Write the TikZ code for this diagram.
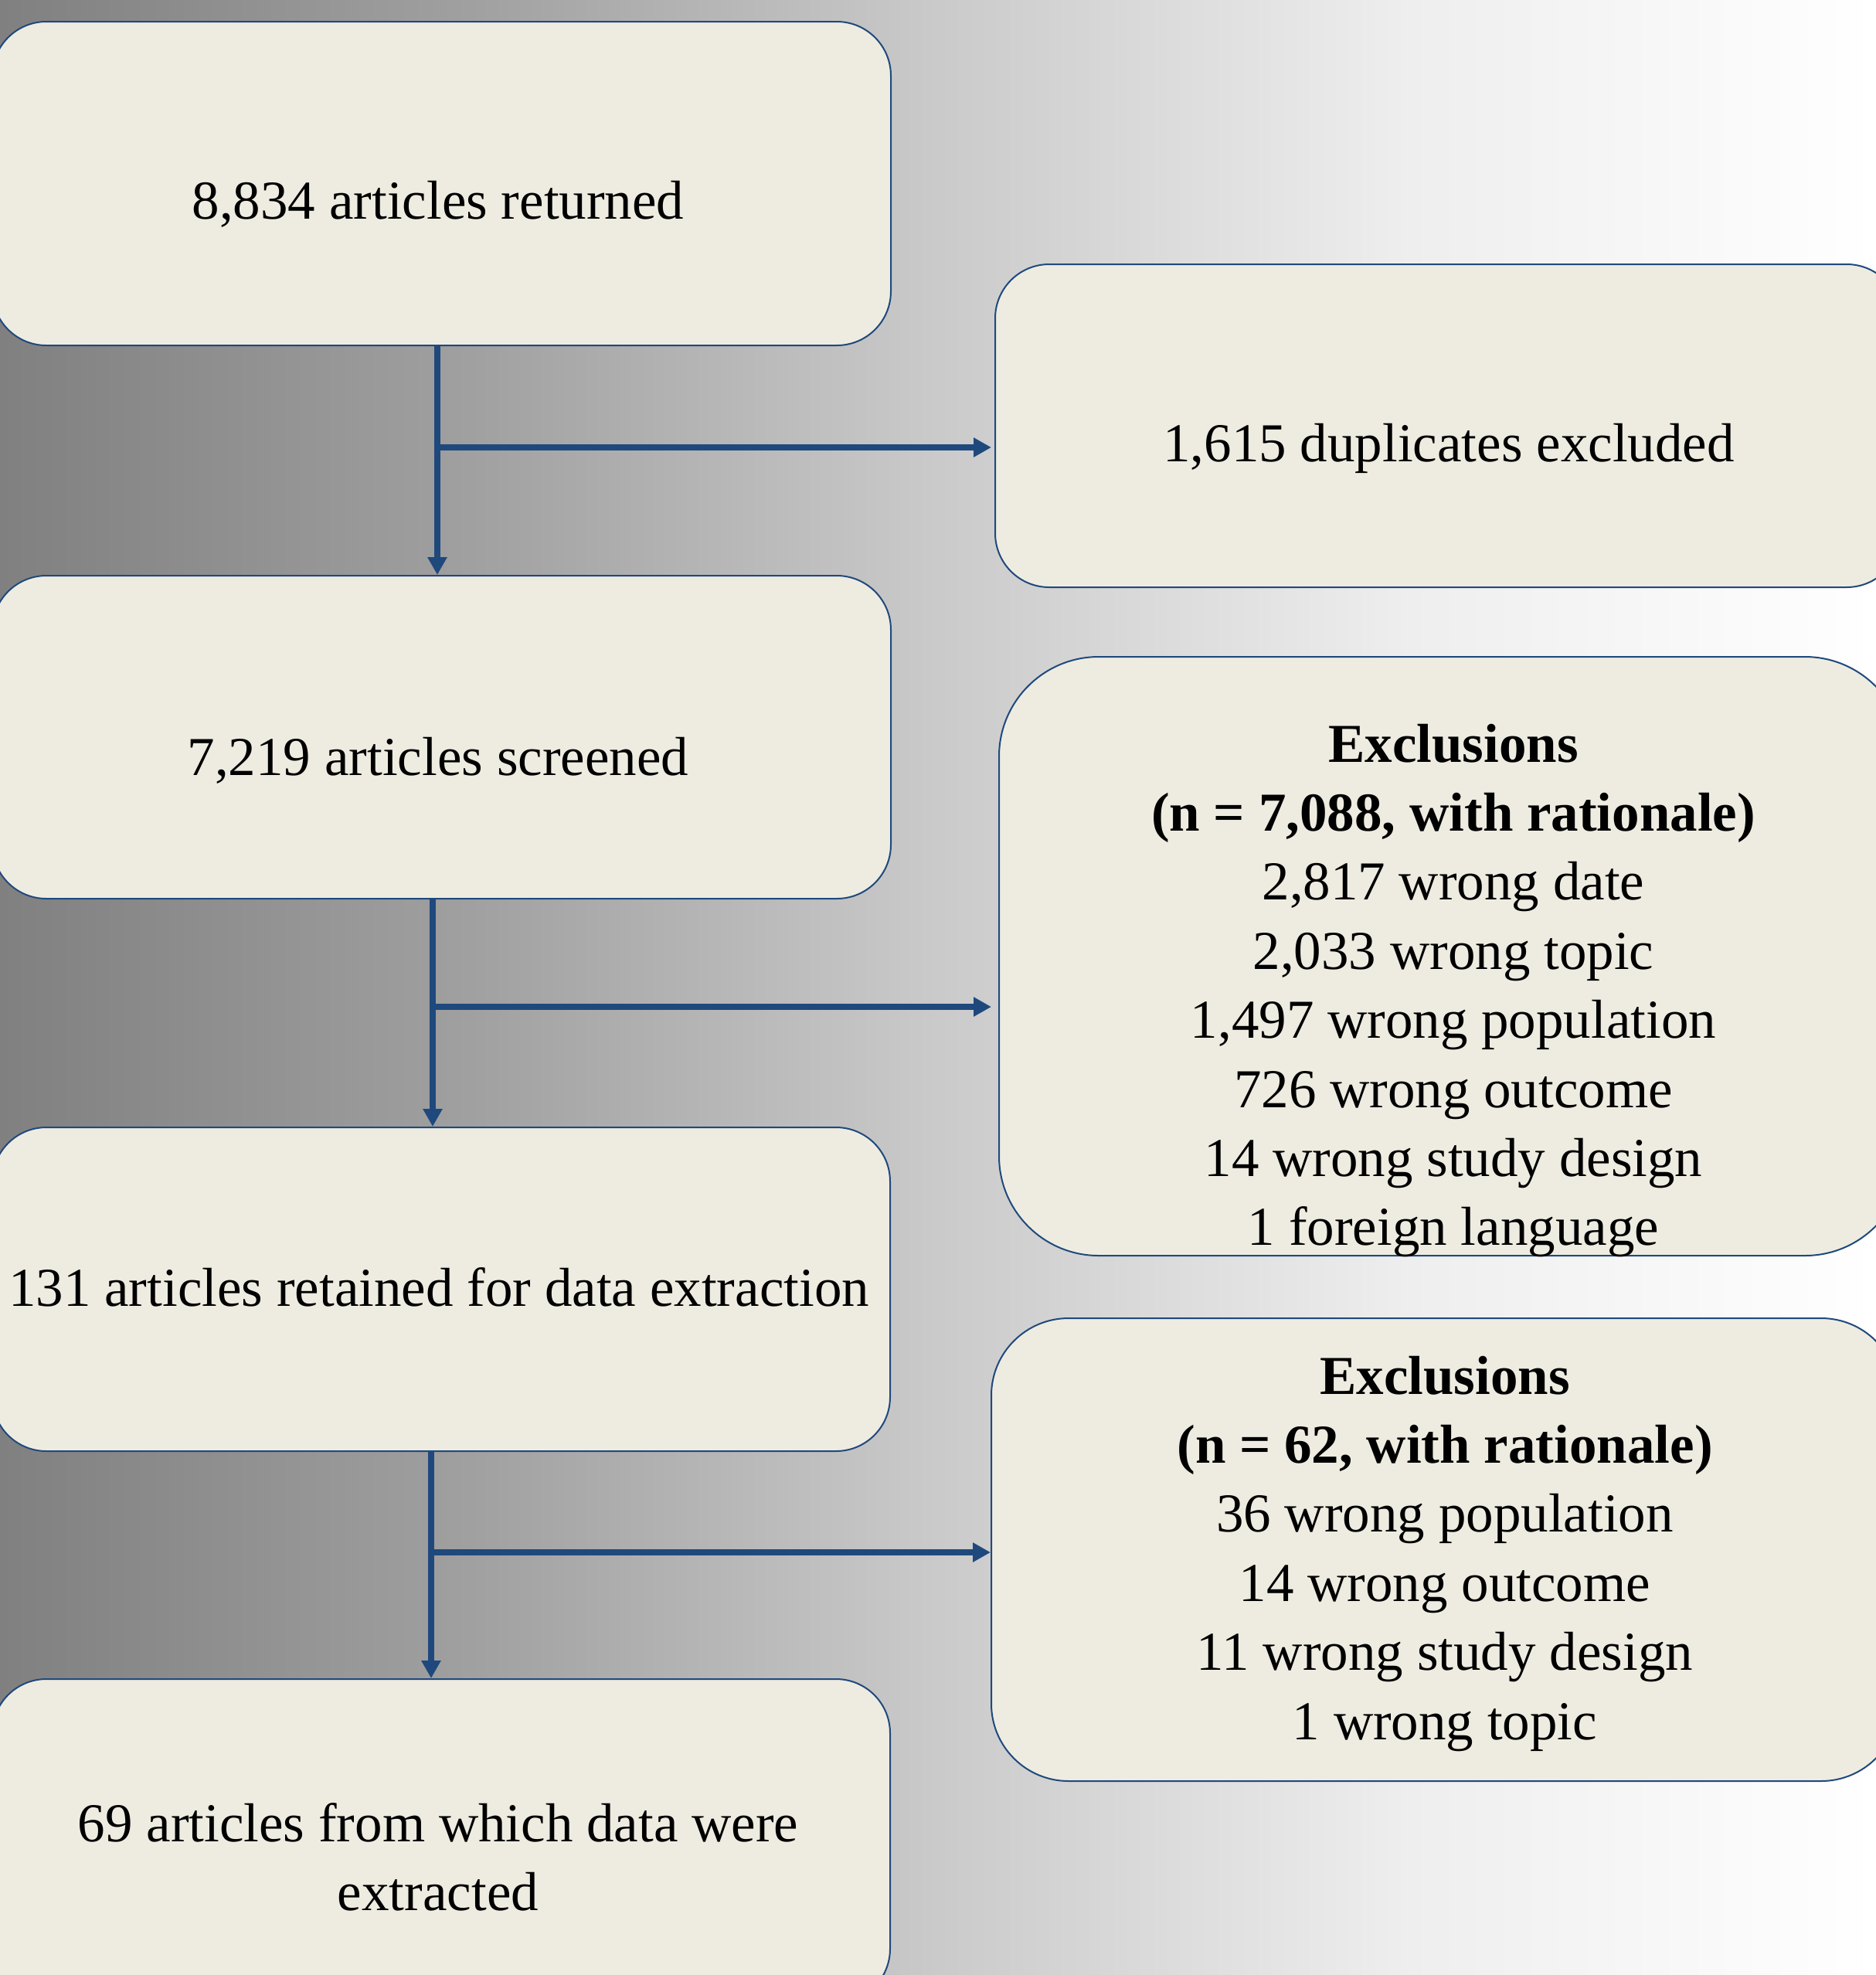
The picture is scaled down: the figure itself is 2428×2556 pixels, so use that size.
\documentclass[tikz,border=0pt]{standalone}
\usepackage{fontspec}
\setmainfont{Liberation Serif}
\usetikzlibrary{arrows.meta}
\definecolor{boxfill}{HTML}{EEECE1}
\definecolor{navy}{HTML}{1F497D}
\definecolor{g0}{RGB}{128,128,128}
\definecolor{g1}{RGB}{160,160,160}
\definecolor{g2}{RGB}{202,202,202}
\definecolor{g3}{RGB}{238,238,238}
\definecolor{g4}{RGB}{255,255,255}
\pgfdeclarehorizontalshading{bgshade}{100bp}{color(0bp)=(g0); color(25bp)=(g0); color(37.5bp)=(g1); color(50bp)=(g2); color(62.5bp)=(g3); color(75bp)=(g4); color(100bp)=(g4)}
\tikzset{
  ebox/.style={draw=navy, line width=1pt, fill=boxfill, inner sep=0pt},
  txt/.style={font=\fontsize{35.5pt}{44.7pt}\selectfont, inner sep=0pt, anchor=base},
  arr/.style={draw=navy, line width=4pt, -{Triangle[length=11.5pt,width=12pt]}},
}
\newcommand{\lines}[1]{\begin{tabular}[t]{@{}c@{}}#1\end{tabular}}
\begin{document}
\begin{tikzpicture}[x=0.5pt, y=-0.5pt]
\useasboundingbox (0,0) rectangle (2428,2556);
\clip (0,0) rectangle (2428,2556);
\fill[shading=bgshade] (0,0) rectangle (2428,2556);

% left column boxes
\node[ebox, rounded corners=35pt, minimum width=581.5pt, minimum height=209.5pt] (A) at (571.5,237.5) {};
\node[ebox, rounded corners=35pt, minimum width=581.5pt, minimum height=209pt] (C) at (571.5,954) {};
\node[ebox, rounded corners=35pt, minimum width=581pt, minimum height=209.5pt] (F) at (571,1668.5) {};
\node[ebox, rounded corners=35pt, minimum width=581pt, minimum height=209.5pt] (G) at (571,2382.5) {};
% right column boxes
\node[ebox, rounded corners=35pt, minimum width=586pt, minimum height=209pt] (B) at (1874,551) {};
\node[ebox, rounded corners=64.5pt, minimum width=586pt, minimum height=387.5pt] (D) at (1879,1237.5) {};
\node[ebox, rounded corners=50pt, minimum width=587pt, minimum height=299.5pt] (E) at (1870,2005.5) {};

% texts
\node[txt] (tA) at (567,283) {8,834 articles returned};
\node[txt] (tC) at (567,1003) {7,219 articles screened};
\node[txt] (tF) at (568,1690) {131 articles retained for data extraction};
\node[txt] (tG) at (567,2383) {\lines{69 articles from which data were\\extracted}};
\node[txt] (tB) at (1875,597) {1,615 duplicates excluded};
\node[txt] (tD) at (1881,986) {\lines{\textbf{Exclusions}\\\textbf{(n = 7,088, with rationale)}\\2,817 wrong date\\2,033 wrong topic\\1,497 wrong population\\726 wrong outcome\\14 wrong study design\\1 foreign language}};
\node[txt] (tE) at (1870,1804) {\lines{\textbf{Exclusions}\\\textbf{(n = 62, with rationale)}\\36 wrong population\\14 wrong outcome\\11 wrong study design\\1 wrong topic}};

% connectors
\draw[arr] ([xshift=-2.75pt]A.south) -- ([xshift=-2.75pt]C.north);
\coordinate (b1) at (566,579);
\draw[arr] (b1) -- ([xshift=-2pt]b1 -| B.west);
\draw[arr] ([xshift=-5.75pt]C.south) -- ([xshift=-5.5pt]F.north);
\coordinate (b2) at (560,1303);
\draw[arr] (b2) -- ([xshift=-4.5pt]b2 -| D.west);
\draw[arr] ([xshift=-6.5pt]F.south) -- ([xshift=-6.5pt]G.north);
\coordinate (b3) at (558,2009);
\draw[arr] (b3) -- (b3 -| E.west);
\end{tikzpicture}
\end{document}
